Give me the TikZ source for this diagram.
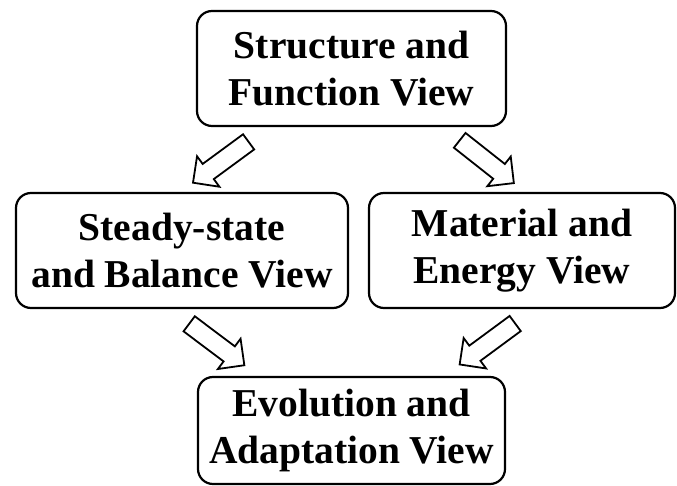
\documentclass[tikz,border=0pt]{standalone}
\usepackage{fontspec}
\setmainfont{Liberation Serif}
\usetikzlibrary{shapes.arrows}
\begin{document}
\begin{tikzpicture}[x=1pt,y=1pt,
  viewbox/.style={draw, line width=2.2pt, rounded corners=15pt, align=center,
    inner sep=0pt, font=\fontsize{39.5}{47}\selectfont\bfseries},
  blockarr/.style={single arrow, draw, line width=1.8pt, fill=white,
    inner sep=8.5pt, single arrow head extend=9.5pt, minimum height=69pt}]
\useasboundingbox (0,0) rectangle (677,-486);
\node[viewbox, minimum width=309pt, minimum height=115pt] (sf) at (351.5,-68.5)
  {Structure and\\Function View};
\node[viewbox, minimum width=332pt, minimum height=115pt] (sb) at (182,-250.5)
  {Steady-state\\and Balance View};
\node[viewbox, minimum width=306pt, minimum height=115pt] (me) at (522,-250.5)
  {Material and\\Energy View};
\node[viewbox, minimum width=307pt, minimum height=107pt] (ea) at (351.5,-430.5)
  {Evolution and\\Adaptation View};
\node[blockarr, rotate=216.3] (a1) at (224.6,-159.5) {};
\node[blockarr, rotate=-38.3] (a2) at (483.1,-158.8) {};
\node[blockarr, rotate=-36.9] (a3) at (213,-341.7) {};
\node[blockarr, rotate=216.4] (a4) at (491.2,-341.2) {};
\end{tikzpicture}
\end{document}
